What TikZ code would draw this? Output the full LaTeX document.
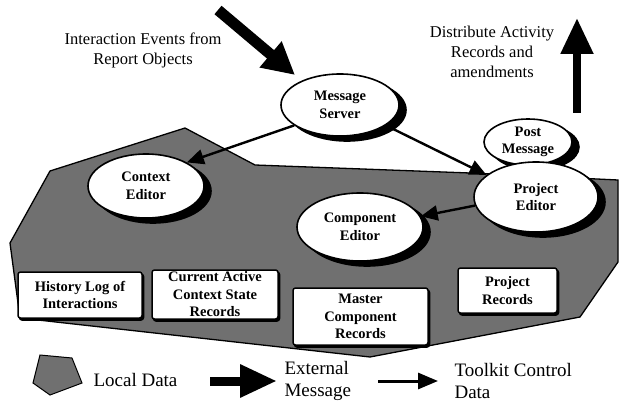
\documentclass[tikz,border=0pt]{standalone}
\usepackage{fontspec}
\setmainfont{Liberation Serif}
\usepackage{tikz}
\usetikzlibrary{shapes.geometric,arrows.meta,calc}

\newcommand{\boxfont}{\fontsize{14.5}{17.5}\selectfont\bfseries}
\newcommand{\notefont}{\fontsize{16.5}{20}\selectfont}
\newcommand{\keyfont}{\fontsize{19}{22}\selectfont}

\tikzset{
  localdata/.style={draw=black, line width=1.3pt, fill=black!56},
  editor/.style={ellipse, draw, line width=1.6pt, fill=white, inner sep=0pt,
    align=center, font=\boxfont},
  store/.style={rectangle, rounded corners=2.5pt, draw, line width=1.5pt,
    fill=white, inner sep=0pt, align=center, font=\boxfont},
  backing/.style={fill=black, draw=black},
  extmsg/.style={line width=11pt, -{Triangle[length=32pt,width=32pt]}},
  ctrl/.style={line width=2.4pt, -{Triangle[length=17pt,width=15pt]}},
}

% ellipse tool with its dark crescent, record box with a thin edge shadow
\newcommand{\toolnode}[5]{%
  \path[backing, line width=1.6pt] ($(#2)+(7,5)$) ellipse [x radius=#3/2, y radius=#4/2];
  \node[editor, minimum width=#3, minimum height=#4] (#1) at (#2) {#5};}
\newcommand{\recordnode}[5]{%
  \node[store, backing, minimum width=#3, minimum height=#4] at ($(#2)+(1.5,2)$) {};
  \node[store, minimum width=#3, minimum height=#4] (#1) at (#2) {#5};}

\begin{document}
\begin{tikzpicture}[x=1pt, y=-1pt]
  \useasboundingbox (0,0) rectangle (620,403);

  % local data area
  \draw[localdata] (50,171) -- (185,128) -- (255,165) -- (470,173) -- (618,180)
    -- (618,262) -- (580,317) -- (370,357) -- (20,318) -- (10,243) -- cycle;

  % tools and stored records
  \toolnode{server}{340,105}{118pt}{62pt}{Message\\Server}
  \toolnode{context}{146,186}{116pt}{64pt}{Context\\Editor}
  \toolnode{component}{360,227}{126pt}{68pt}{Component\\Editor}
  \toolnode{post}{528,142}{88pt}{46pt}{Post\\Message}
  \toolnode{project}{536,197}{124pt}{70pt}{Project\\Editor}

  \recordnode{history}{80,295}{124pt}{46pt}{History Log of\\Interactions}
  \recordnode{current}{215,294.5}{126pt}{49pt}{Current Active\\Context State\\Records}
  \recordnode{master}{360.5,316.5}{135pt}{57pt}{Master\\Component\\Records}
  \recordnode{precords}{507.5,290.5}{99pt}{45pt}{Project\\Records}

  % messages in and out
  \coordinate (events) at (218,10);
  \coordinate (outbase) at (577,113);
  \coordinate (outtip) at (577,18);
  \draw[extmsg] (events) -- (295,75);
  \draw[extmsg, line width=8pt, -{Triangle[length=36pt,width=31pt]}] (outbase) -- (outtip);
  \node[font=\notefont, align=center] (evtext) at (143,50) {Interaction Events from\\Report Objects};
  \node[font=\notefont, align=center] (outtext) at (492,52) {Distribute Activity\\Records and\\amendments};

  % control data between tools
  \draw[ctrl] (server.204) -- (context.30);
  \draw[ctrl, shorten <=8pt] (server.-24) -- (project.156);
  \draw[ctrl] (project.188) -- (component.10);

  % key
  \draw[localdata, line width=1pt] (40,355) -- (72,358) -- (82,383) -- (50,395) -- (33,383) -- cycle;
  \node[font=\keyfont, anchor=west] (keylocal) at (90,380) {Local Data};
  \coordinate (ext0) at (210,381);
  \coordinate (ext1) at (277,381);
  \draw[extmsg, line width=9pt, -{Triangle[length=37pt,width=31pt]}] (ext0) -- (ext1);
  \node[font=\keyfont, align=left, anchor=west] (keyext) at (281,381) {External\\Message};
  \coordinate (tk0) at (378,381);
  \coordinate (tk1) at (438,381);
  \draw[ctrl, line width=3pt, -{Triangle[length=20pt,width=16pt]}] (tk0) -- (tk1);
  \node[font=\keyfont, align=left, anchor=west] (keytk) at (451,381) {Toolkit Control\\Data};
\end{tikzpicture}
\end{document}
